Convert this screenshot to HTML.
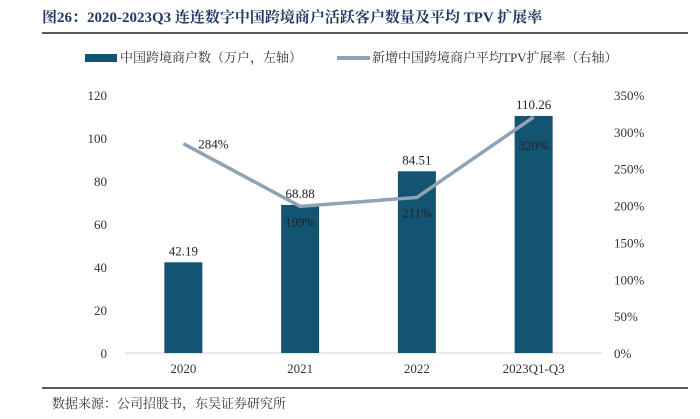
<!DOCTYPE html>
<html><head><meta charset="utf-8"><style>
body{margin:0;background:#fff;width:700px;height:414px;overflow:hidden;font-family:"Liberation Serif","Noto Serif CJK SC",serif}
</style></head><body>
<svg width="700" height="414" xmlns="http://www.w3.org/2000/svg">
<text x="42" y="22" font-size="15" font-weight="bold" fill="#1f3864">图26：2020-2023Q3 连连数字中国跨境商户活跃客户数量及平均 TPV 扩展率</text>
<line x1="42" y1="33" x2="688" y2="33" stroke="#222" stroke-width="1.5"/>
<g font-size="13" fill="#333">
<rect x="85" y="54" width="32" height="8" fill="#135473"/>
<text x="120" y="62">中国跨境商户数（万户，左轴）</text>
<line x1="337" y1="58" x2="370" y2="58" stroke="#8fa3b3" stroke-width="4"/>
<text x="372" y="62">新增中国跨境商户平均TPV扩展率（右轴）</text>
</g>
<g id="plot"></g>
<line x1="42" y1="388" x2="688" y2="388" stroke="#222" stroke-width="1.5"/>
<text x="52" y="408" font-size="13" fill="#333">数据来源：公司招股书，东吴证券研究所</text>
</svg>
<script>
const categories=["2020","2021","2022","2023Q1-Q3"];
const merchants=[42.19,68.88,84.51,110.26];
const tpvRate=[284,199,211,320];
const leftTicks=[0,20,40,60,80,100,120];
const rightTicks=[0,50,100,150,200,250,300,350];
const NS="http://www.w3.org/2000/svg";
const g=document.getElementById('plot');
const x0=125,x1=592,yTop=95,yBot=353;
const bw=(x1-x0)/categories.length;
const xc=i=>x0+bw*(i+0.5);
const yL=v=>yBot-(v/120)*(yBot-yTop);
const yR=v=>yBot-(v/350)*(yBot-yTop);
function el(t,a,txt){const e=document.createElementNS(NS,t);for(const k in a)e.setAttribute(k,a[k]);if(txt!==undefined)e.textContent=txt;g.appendChild(e);return e;}
leftTicks.forEach(v=>{const t=el('text',{x:107,y:yL(v)+5,'text-anchor':'end','font-size':13,fill:'#333'},v);

});
rightTicks.forEach(v=>{const t=el('text',{x:614,y:yR(v)+5,'font-size':13,fill:'#333'},v+'%');

});
const ax=el('line',{x1:x0,y1:yBot,x2:x1+10,y2:yBot,stroke:'#d0d0d0','stroke-width':1});


categories.forEach((c,i)=>{
const r=el('rect',{x:xc(i)-19,y:yL(merchants[i]),width:38,height:yBot-yL(merchants[i]),fill:'#135473'});


const l=el('text',{x:xc(i),y:yL(merchants[i])-7,'text-anchor':'middle','font-size':13,fill:'#222'},merchants[i].toFixed(2));


const t=el('text',{x:xc(i),y:yBot+20,'text-anchor':'middle','font-size':13,fill:'#333'},c);


});
const pts=tpvRate.map((v,i)=>xc(i)+','+yR(v)).join(' ');
const pl=el('polyline',{points:pts,fill:'none',stroke:'#8fa3b3','stroke-width':3.5});


tpvRate.forEach((v,i)=>{const off=i===0?5:(i===3?33:20);const dx=i===0?30:0;
const t=el('text',{x:xc(i)+dx,y:yR(v)+off,'text-anchor':'middle','font-size':13,fill:'#222'},v+'%');

});
</script>
</body></html>
